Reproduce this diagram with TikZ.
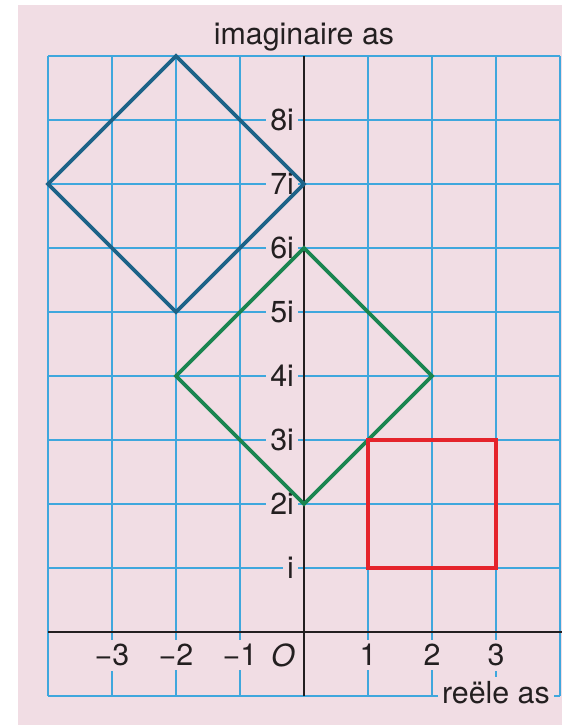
\documentclass[tikz,border=0pt]{standalone}
\usepackage{fontspec}
\setmainfont{TeX Gyre Heros}
\definecolor{bgpink}{HTML}{F1DDE4}
\definecolor{gridblue}{HTML}{3FA7DD}
\definecolor{inkblack}{HTML}{231F20}
\definecolor{sqblue}{HTML}{1D6388}
\definecolor{sqgreen}{HTML}{1A8550}
\definecolor{sqred}{HTML}{E5232B}

\begin{document}
\begin{tikzpicture}[x=1cm, y=1cm,
  gridline/.style={gridblue, line width=0.6pt},
  axisline/.style={inkblack, line width=0.9pt},
  shapeline/.style={line width=1.6pt, line join=miter},
  lab/.style={text=inkblack, font=\fontsize{13.5}{15}\selectfont},
  xlab/.style={lab, fill=bgpink, inner sep=2pt},
  ylab/.style={lab, fill=bgpink, inner sep=2pt, anchor=east}]

\useasboundingbox (-4.75,-1.453) rectangle (4.031,9.875);
\fill [bgpink] (-4.469,-1.453) rectangle (4.031,9.797);

\draw [gridline] (-4,-1) grid (4,9);

% axis titles
\node [lab] (imtitle) at (0,9.3) {imaginaire as};
\node [lab, fill=bgpink, inner sep=2pt, anchor=west] (retitle) at (2.08,-0.95) {reële as};

% numbers on the real axis
\node [xlab] (xm3) at (-3,-0.36) {−3};
\node [xlab] (xm2) at (-2,-0.36) {−2};
\node [xlab] (xm1) at (-1,-0.36) {−1};
\node [lab]  (orig) at (-0.33,-0.36) {\textit{O}};
\node [xlab] (x1)  at (1,-0.36) {1};
\node [xlab] (x2)  at (2,-0.36) {2};
\node [xlab] (x3)  at (3,-0.36) {3};

% numbers on the imaginary axis
\node [ylab] (y1) at (-0.08,1) {i};
\foreach \k in {2,...,8}
  \node [ylab] (y\k) at (-0.08,\k) {\k i};

\draw [axisline] (-4,0) -- (4.031,0);
\draw [axisline] (0,-1) -- (0,9);

% squares
\draw [shapeline, sqblue]  (-2,9) -- (0,7) -- (-2,5) -- (-4,7) -- cycle;
\draw [shapeline, sqgreen] (0,6) -- (2,4) -- (0,2) -- (-2,4) -- cycle;
\draw [shapeline, sqred]   (1,1) rectangle (3,3);

\end{tikzpicture}
\end{document}
